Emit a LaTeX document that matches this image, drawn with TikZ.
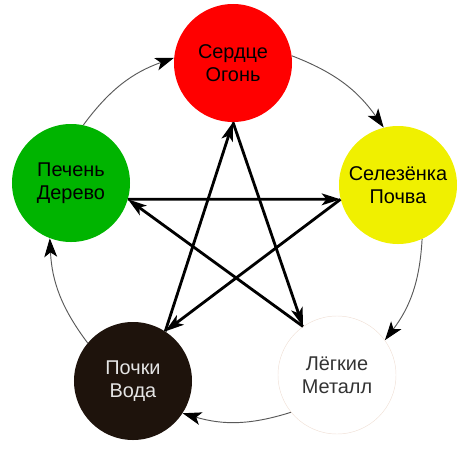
\documentclass[tikz,border=0pt]{standalone}
\usepackage{fontspec}
\setmainfont{Liberation Sans}
\usepackage{tikz}
\usetikzlibrary{arrows.meta}

\definecolor{fire}{RGB}{255,0,0}
\definecolor{earth}{RGB}{240,240,0}
\definecolor{wood}{RGB}{0,180,0}
\definecolor{water}{RGB}{30,19,12}
\definecolor{metalrim}{RGB}{240,225,215}

\begin{document}
\begin{tikzpicture}[x=0.03cm, y=-0.03cm,
  every node/.style={circle, minimum size=3.54cm, inner sep=0pt, align=center, font=\fontsize{17}{20}\selectfont},
  star/.style={line width=2.4pt, -{Stealth[length=16pt, width=10pt, inset=4pt]}},
  cycle/.style={line width=0.8pt, gray!70!black, -{Stealth[length=16pt, width=11pt, inset=4pt, color=black]}, bend left=17}]

\useasboundingbox (0,0) rectangle (470,470);

\node(rd)[fill=fire]  at (233,63) {Сердце\\Огонь};
\node(ye)[fill=earth] at (398,185) {Селезёнка\\Почва};
\node(wh)[draw=metalrim, text=black!80] at (337,375) {Лёгкие\\Металл};
\node(bk)[fill=water, text=black!10] at (133,381) {Почки\\Вода};
\node(gr)[fill=wood]  at (71,183) {Печень\\Дерево};

% outer circle
\draw[cycle] (gr.78)  to (rd.175);
\draw[cycle] (rd.7)   to (ye.104);
\draw[cycle] (ye.-66) to (wh.36);
\draw[cycle] (wh.219) to (bk.-33);
\draw[cycle] (bk.140) to (gr.249);

% star
\draw[star] (gr.-16) -- (ye.194);
\draw[star] (ye.194) -- (bk.57);
\draw[star] (bk.57)  -- (rd.-90);
\draw[star] (rd.-90) -- (wh.125);
\draw[star] (wh.125) -- (gr.-16);
\end{tikzpicture}
\end{document}
